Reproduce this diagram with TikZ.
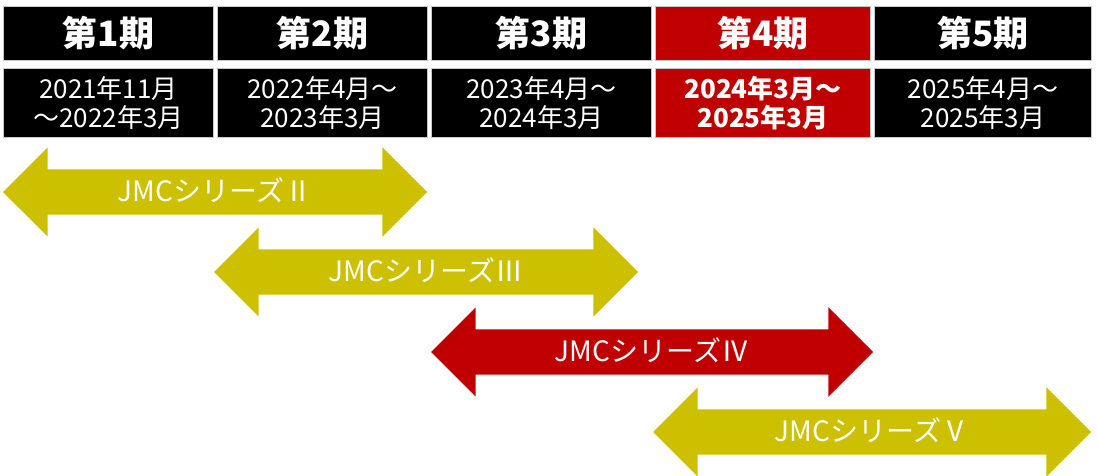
\documentclass[tikz,border=0pt]{standalone}
\usepackage{fontspec}
\setmainfont{Noto Sans CJK JP}
\usetikzlibrary{shapes.arrows}
\definecolor{jmcolive}{HTML}{CCC000}
\definecolor{jmcred}{HTML}{C00000}

\begin{document}
\begin{tikzpicture}[x=1pt,y=-1pt,
  every node/.style={text=white,align=center},
  period/.style={rectangle,fill=black,draw=gray!45,line width=1.2pt,minimum height=54pt,font=\bfseries\fontsize{35}{36}\selectfont},
  span/.style={rectangle,fill=black,draw=gray!45,line width=1.2pt,minimum height=69pt,font=\fontsize{26}{29}\selectfont},
  series/.style={double arrow,double arrow head extend=22pt,double arrow tip angle=90,
    text height=19pt,text depth=0pt,inner ysep=13pt,inner xsep=0pt,font=\fontsize{28}{30}\selectfont}]
\useasboundingbox (0,0) rectangle (1097,476);
\node[period,minimum width=210pt]          (p1) at (108.5,33.5) {第1期};
\node[period,minimum width=210pt]          (p2) at (322.5,33.5) {第2期};
\node[period,minimum width=220pt]          (p3) at (541.5,33.5) {第3期};
\node[period,minimum width=215pt,fill=jmcred] (p4) at (763,33.5)   {第4期};
\node[period,minimum width=217pt]          (p5) at (983,33.5)   {第5期};
\node[span,minimum width=210pt]            (d1) at (108.5,103)  {2021年11月\\～2022年3月};
\node[span,minimum width=210pt]            (d2) at (322.5,103)  {2022年4月～\\2023年3月};
\node[span,minimum width=220pt]            (d3) at (541.5,103)  {2023年4月～\\2024年3月};
\node[span,minimum width=215pt,fill=jmcred,font=\bfseries\fontsize{26}{29}\selectfont]
                                           (d4) at (763,103)    {2024年3月～\\2025年3月};
\node[span,minimum width=217pt]            (d5) at (983,103)    {2025年4月～\\2025年3月};
\node[series,fill=jmcolive,minimum height=424pt] (s2) at (215,192) {JMCシリーズⅡ};
\node[series,fill=jmcolive,minimum height=424pt] (s3) at (426,272) {JMCシリーズⅢ};
\node[series,fill=jmcred,minimum height=442pt]   (s4) at (652,352) {JMCシリーズⅣ};
\node[series,fill=jmcolive,minimum height=438pt] (s5) at (872,432) {JMCシリーズⅤ};
\end{tikzpicture}
\end{document}
